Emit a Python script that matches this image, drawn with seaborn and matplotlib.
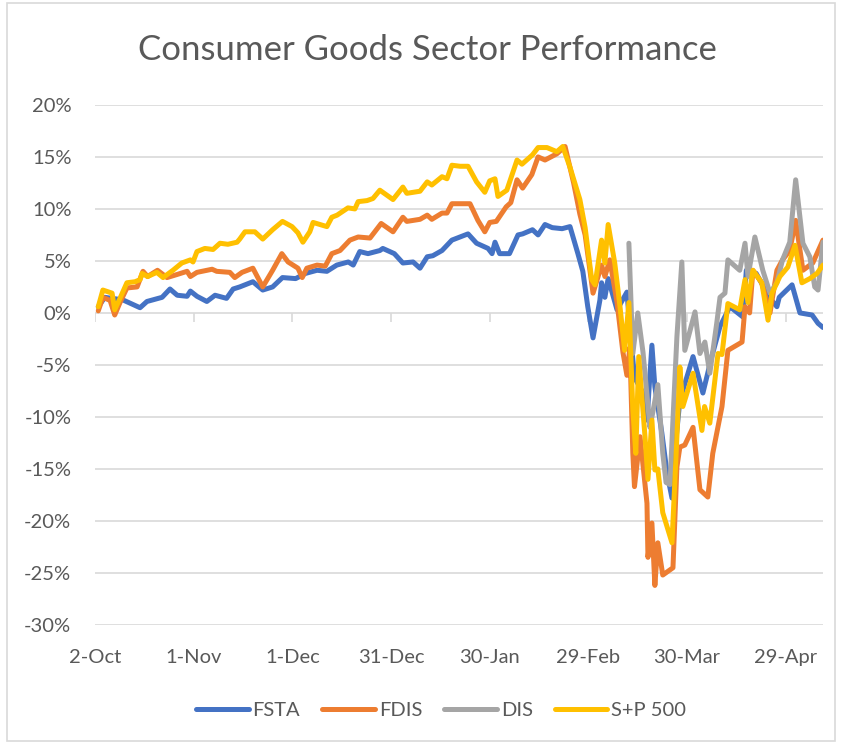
import pandas as pd
import numpy as np
import matplotlib.pyplot as plt
import matplotlib.dates as mdates
from matplotlib.lines import Line2D
from matplotlib.patches import Rectangle
import seaborn as sns

start = pd.Timestamp('2019-10-02')

# cumulative % change, x = days after 2-Oct-2019
fsta_day = [1, 3, 8.5, 13.7, 15.8, 20.4, 22.8, 25, 28, 29, 31, 34, 36.5, 40, 42,
            44, 48, 51, 54, 57, 61, 64, 67.5, 70.5, 73.5, 77, 78.5, 80.5, 83, 86.6,
            87.5, 91, 93.6, 96.7, 98.8, 101, 102.7, 105.5, 108.5, 113.4, 116, 119.5,
            120.7, 121.6, 123, 126, 128.6, 130, 133, 134.7, 136.8, 139, 142, 144.4,
            146.8, 148.3, 149.8, 151.4, 153.5, 154, 155, 156, 158.7, 161.7, 162.6,
            164, 166.6, 167.8, 169.3, 170.2, 172.3, 173.9, 175.4, 176.3, 177.8,
            181.8, 184.8, 187.5, 190, 193, 197, 198, 201, 205, 207.3, 208, 211.9,
            214.3, 218, 219.8, 221.3]
fsta_pct = [0.6, 1.5, 1.25, 0.5, 1.1, 1.5, 2.3, 1.7, 1.6, 2.1, 1.6, 1.1, 1.7, 1.4, 2.3,
            2.5, 3.0, 2.2, 2.5, 3.4, 3.3, 3.8, 4.1, 4.0, 4.6, 4.9, 4.6, 5.9, 5.7, 6.0,
            6.2, 5.7, 4.8, 4.9, 4.3, 5.4, 5.5, 6.0, 7.0, 7.6, 6.7, 6.2,
            5.7, 6.8, 5.7, 5.7, 7.5, 7.6, 8.0, 7.5, 8.5, 8.2, 8.1, 8.3,
            5.7, 4.0, 0.6, -2.4, 1.25, 2.9, 1.5, 3.3, 0.3, 2.0, -1.3,
            -6.2, -7.7, -10.3, -3.1, -7.1, -11.5, -15.4, -17.8, -13.2, -8.4,
            -4.2, -7.7, -4.2, -1.3, 0.6, -0.4, 4.1, 3.8, 1.5, 0.6, 1.5, 2.7,
            0.0, -0.2, -1.0, -1.4]

fdis_day = [1, 2.4, 4.6, 6, 7.6, 9.7, 12.8, 14.6, 16, 19, 21.9, 25, 28, 29, 31,
            35.6, 37, 41, 42.5, 44.7, 48, 51, 54, 56.8, 58.7, 61.7, 63, 64.4, 67.5, 70,
            72, 74.5, 77.5, 80, 83.6, 87, 90.6, 93.6, 94.8, 98.8, 101, 102.4, 105.5,
            107, 108.5, 114, 116.4, 118.5, 120, 122, 125, 126.4, 128.3, 130, 132.8,
            134.7, 136.8, 140.4, 142.9, 145.5, 147.4, 149, 151.4, 154, 155, 156.5,
            158.7, 160.5, 161.7, 162.6, 163.5, 164, 165.7, 167.8, 168.1, 169.3, 170.2,
            171.1, 172.6, 175.7, 176.9, 177.8, 179.3, 181.8, 183.9, 186.3, 187.8,
            190.6, 192.4, 196.7, 197.6, 199, 200, 202.7, 205.2, 207.3, 209, 211.2,
            213, 215.2, 218.2, 221.3]
fdis_pct = [0.2, 1.5, 1.2, -0.2, 1.0, 2.4, 2.5, 4.0, 3.5, 4.1, 3.4, 3.7, 4.0, 3.5, 3.9,
            4.2, 4.0, 3.9, 3.4, 3.9, 4.3, 2.5, 4.1, 5.7, 4.9, 4.3, 3.4, 4.3, 4.6, 4.5,
            5.7, 6.0, 7.0, 7.3, 7.2, 8.6, 7.8, 9.2, 8.8, 9.0, 9.4, 9.0, 9.6,
            9.6, 10.5, 10.5, 8.9, 7.8, 8.7, 8.8, 10.2, 10.6, 12.8, 12.0, 13.3,
            15.0, 14.7, 15.3, 16.0, 12.5, 9.5, 7.5, 1.9, 4.6, 3.5, 5.1,
            1.0, -3.8, -6.0, -3.3, -13.5, -16.7, -11.9, -18.3, -23.5, -20.2, -26.2,
            -22.1, -25.2, -24.5, -14.8, -12.9, -12.7, -11.0, -17.0, -17.7, -13.5,
            -9.0, -3.6, -2.8, 0.6, 0.0, 4.1, 2.9, 0.0, 4.1, 5.1, 6.0,
            8.9, 4.1, 4.8, 7.0]

dis_day = [162.3, 163.5, 165, 166.6, 168.7, 169.6, 171.1, 172.6, 173.6, 174.8,
           175.7, 176.9, 178.4, 179.3, 182.4, 183.9, 185.4, 186.9, 189, 190,
           191.5, 192.4, 196, 197.6, 198.5, 200.6, 203, 205.2, 207.3, 209,
           211.2, 213, 215.2, 217.3, 218.8, 219.8, 221.3]
dis_pct = [6.7, -3.9, 0.0, -3.8, -11.0, -9.5, -6.9, -13.5, -16.3, -16.5,
           -10.3, -2.3, 4.9, -3.6, 0.1, -3.9, -2.8, -5.8, -1.0, 1.5,
           1.9, 5.1, 4.1, 6.7, 3.5, 7.3, 4.1, 1.9, 2.9, 5.1,
           6.8, 12.8, 6.7, 5.4, 2.5, 2.2, 6.8]

spx_day = [1, 2.4, 5.2, 6, 7.6, 9.7, 12.2, 13.7, 14.3, 16, 18.8, 20.7, 23.7, 26.4, 29,
           29.8, 31, 33.4, 35.9, 38, 40.4, 43.2, 44, 45.6, 48.6, 51, 54, 57, 59.9, 61.7,
           63.2, 65.3, 66.3, 68.4, 70.5, 72, 73.6, 76.9, 79, 80, 82.7, 84.5, 86.6, 90.6,
           93.6, 94.8, 98.8, 101, 102.4, 105.5, 107, 108.5, 111, 113.4, 116, 118.5, 120,
           121.6, 122.5, 125.2, 128.3, 129.8, 133, 134.7, 137.4, 140.4, 142.2, 144.4,
           147.4, 149, 151, 152, 154, 155, 156, 158, 159.6, 161, 162.3, 163.5, 164.4,
           165.3, 167.2, 168.1, 169.3, 170.2, 171.1, 172.6, 175.4, 176.9, 177.8, 178.7,
           181.8, 184.5, 185.3, 186.9, 189.4, 190.6, 192.4, 196, 197.6, 198.5, 200,
           202.7, 204.6, 205.8, 208.2, 210.6, 212.8, 214.9, 217.3, 219.5, 221.3]
spx_pct = [0.6, 2.2, 1.9, 0.3, 1.4, 2.9, 3.0, 3.2, 3.8, 3.5, 3.9, 3.4, 4.1, 4.8, 5.1,
           4.9, 5.9, 6.2, 6.1, 6.7, 6.6, 6.8, 7.1, 7.8, 7.8, 7.1, 8.0, 8.8, 8.3, 7.7,
           6.8, 7.8, 8.7, 8.5, 8.3, 9.2, 9.4, 10.1, 10.0, 10.7, 10.8, 11.0, 11.8, 10.9,
           12.1, 11.5, 11.7, 12.6, 12.3, 13.1, 12.9, 14.2, 14.1, 14.1, 12.6, 11.6, 12.7,
           12.9, 11.2, 11.8, 14.7, 14.3, 15.2, 15.9, 15.9, 15.5, 16.0, 14.0,
           10.9, 8.2, 3.2, 2.7, 7.0, 4.8, 8.5, 4.8, 0.6, -3.6, 1.0, -9.3, -13.5,
           -4.2, -11.9, -16.0, -10.3, -15.1, -15.0, -19.2, -22.1, -11.9, -5.2, -9.0,
           -5.8, -11.3, -9.0, -10.6, -3.9, -4.0, 0.9, 0.3, 3.2, 1.0, 4.1,
           2.9, -0.7, 1.9, 3.5, 4.4, 6.5, 2.9, 3.3, 3.8, 4.6]

names = ['FSTA', 'FDIS', 'DIS', 'S+P 500']
colors = ['#4472C4', '#ED7D31', '#A5A5A5', '#FFC000']

frames = []
for name, d, v in zip(names, [fsta_day, fdis_day, dis_day, spx_day],
                      [fsta_pct, fdis_pct, dis_pct, spx_pct]):
    frames.append(pd.DataFrame({'date': start + pd.to_timedelta(d, unit='D'),
                                'pct': v, 'series': name}))
df = pd.concat(frames, ignore_index=True)

sns.set_style('white')
plt.rcParams['font.family'] = ['Lato', 'DejaVu Sans']
txt = '#595959'
grid = '#D9D9D9'

fig = plt.figure(figsize=(8.42, 7.44), dpi=100)
ax = fig.add_axes([0.1128, 0.160, 0.8646, 0.699])

for y in range(-30, 25, 5):
    ax.axhline(y, color=grid, lw=1.2, zorder=0)

ticks = [start + pd.Timedelta(days=30 * k) for k in range(8)]
ax.vlines(ticks, -0.9, 0, color=grid, lw=1.2, zorder=0)

sns.lineplot(data=df, x='date', y='pct', hue='series', hue_order=names,
             palette=colors, estimator=None, lw=3.6, legend=False, ax=ax,
             solid_capstyle='round', solid_joinstyle='round')

ax.set_xlim(start, start + pd.Timedelta(days=221.3))
ax.set_ylim(-30, 20)
ax.set_yticks(range(-30, 25, 5))
ax.yaxis.set_major_formatter(lambda v, p: f'{v:.0f}%')
ax.set_xticks(ticks)
ax.xaxis.set_major_formatter(mdates.DateFormatter('%-d-%b'))
ax.tick_params(axis='both', length=0, labelsize=14.5, labelcolor=txt)
ax.tick_params(axis='x', pad=17)
ax.tick_params(axis='y', pad=17)
ax.set_xlabel('')
ax.set_ylabel('')
sns.despine(ax=ax, left=True, bottom=True)

fig.text(0.508, 1 - 50 / 744, 'Consumer Goods Sector Performance', ha='center',
         va='center', fontsize=25, color=txt)

handles = [Line2D([], [], color=c, lw=3.6, solid_capstyle='round') for c in colors]
leg = fig.legend(handles, names, loc='center', bbox_to_anchor=(0.524, 1 - 710 / 744),
                 ncol=4, frameon=False, fontsize=14.5, handlelength=2.6,
                 handletextpad=0.2, columnspacing=1.1)
for t in leg.get_texts():
    t.set_color(txt)

fig.patches.append(Rectangle((0.008, 0.004), 0.984, 0.992, transform=fig.transFigure,
                             fill=False, edgecolor=grid, lw=1.2))

plt.savefig('out.png', dpi=100)
plt.close()
